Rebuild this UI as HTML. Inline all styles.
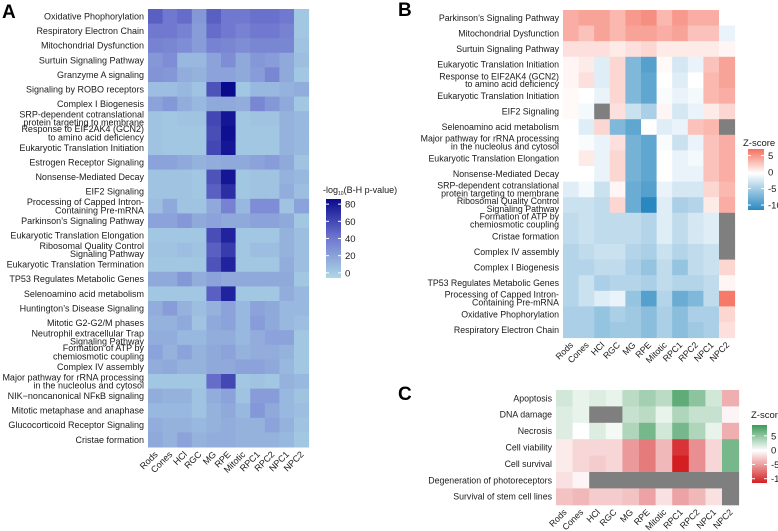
<!DOCTYPE html>
<html><head><meta charset="utf-8">
<style>
html,body{margin:0;padding:0;background:#fff;}
svg{display:block;font-family:"Liberation Sans",Arial,sans-serif;}
</style></head>
<body>
<svg id="fig" width="778" height="531" viewBox="0 0 778 531" xmlns="http://www.w3.org/2000/svg">
<defs>
<linearGradient id="gA" x1="0" y1="1" x2="0" y2="0">
<stop offset="0" stop-color="#add8e6"/><stop offset="0.5" stop-color="#7078d0"/><stop offset="1" stop-color="#0a0a8e"/>
</linearGradient>
<linearGradient id="gB" x1="0" y1="1" x2="0" y2="0">
<stop offset="0" stop-color="#2a88c0"/><stop offset="0.6" stop-color="#ffffff"/><stop offset="1" stop-color="#f4705f"/>
</linearGradient>
<linearGradient id="gC" x1="0" y1="1" x2="0" y2="0">
<stop offset="0" stop-color="#d41f22"/><stop offset="0.56" stop-color="#ffffff"/><stop offset="1" stop-color="#3d9a5b"/>
</linearGradient>
</defs>
<text x="2" y="18" font-size="19" font-weight="bold">A</text>
<text x="398" y="16" font-size="19" font-weight="bold">B</text>
<text x="398" y="400" font-size="19" font-weight="bold">C</text>
</svg>
<script>
const cols = ["Rods","Cones","HCl","RGC","MG","RPE","Mitotic","RPC1","RPC2","NPC1","NPC2"];
const rowsA = ["Oxidative Phophorylation","Respiratory Electron Chain","Mitochondrial Dysfunction","Surtuin Signaling Pathway","Granzyme A signaling","Signaling by ROBO receptors","Complex I Biogenesis","SRP-dependent cotranslational|protein targeting to membrane","Response to EIF2AK4 (GCN2)|to amino acid deficiency","Eukaryotic Translation Initiation","Estrogen Receptor Signaling","Nonsense-Mediated Decay","EIF2 Signaling","Processing of Capped Intron-|Containing Pre-mRNA","Parkinson’s Signaling Pathway","Eukaryotic Translation Elongation","Ribosomal Quality Control|Signaling Pathway","Eukaryotic Translation Termination","TP53 Regulates Metabolic Genes","Selenoamino acid metabolism","Huntington’s Disease Signaling","Mitotic G2-G2/M phases","Neutrophil extracellular Trap|Signaling Pathway","Formation of ATP by|chemiosmotic coupling","Complex IV assembly","Major pathway for rRNA processing|in the nucleolus and cytosol","NIK\u2212noncanonical NFκB signaling","Mitotic metaphase and anaphase","Glucocorticoid Receptor Signaling","Cristae formation"];
const valsA = [
[55,45,50,30,55,45,45,48,48,45,8],
[45,45,40,28,50,45,40,45,45,40,8],
[40,38,35,28,40,38,35,38,38,38,10],
[30,35,15,15,25,35,22,30,28,22,12],
[32,30,20,18,25,25,22,28,38,22,8],
[12,12,15,10,60,90,8,15,15,18,20],
[25,30,20,15,22,22,20,38,30,22,8],
[10,8,10,10,65,85,8,10,10,18,15],
[10,8,8,8,62,88,8,8,8,18,15],
[10,8,8,8,65,85,8,8,8,18,15],
[25,25,22,18,20,22,22,25,28,22,10],
[10,10,10,8,60,85,8,10,10,18,15],
[10,10,10,8,55,75,8,10,10,20,12],
[12,22,10,10,22,40,15,35,35,10,25],
[25,25,30,22,25,22,22,25,25,22,8],
[8,8,8,8,62,80,8,8,8,18,12],
[10,10,12,10,55,70,8,12,12,18,12],
[8,8,8,8,60,80,8,8,8,20,12],
[22,22,30,20,25,22,22,22,22,22,8],
[8,8,8,8,55,80,8,8,8,20,15],
[20,28,18,12,18,25,15,25,22,15,15],
[18,18,22,10,22,25,15,28,22,15,12],
[20,20,15,15,20,20,15,20,25,25,8],
[25,18,25,18,22,25,18,20,20,18,8],
[20,22,18,18,22,22,25,25,22,15,8],
[8,8,8,8,50,65,8,10,8,18,15],
[20,18,18,10,20,25,10,28,28,15,10],
[15,15,15,10,18,22,15,30,22,15,12],
[20,18,18,15,18,20,18,18,25,18,10],
[22,18,25,18,20,20,18,18,18,15,8]];
const ticksA = [0,20,40,60,80];
const rowsB = ["Parkinson’s Signaling Pathway","Mitochondrial Dysfunction","Surtuin Signaling Pathway","Eukaryotic Translation Initiation","Response to EIF2AK4 (GCN2)|to amino acid deficiency","Eukaryotic Translation Initiation","EIF2 Signaling","Selenoamino acid metabolism","Major pathway for rRNA processing|in the nucleolus and cytosol","Eukaryotic Translation Elongation","Nonsense-Mediated Decay","SRP-dependent cotranslational|protein targeting to membrane","Ribosomal Quality Control|Signaling Pathway","Formation of ATP by|chemiosmotic coupling","Cristae formation","Complex IV assembly","Complex I Biogenesis","TP53 Regulates Metabolic Genes","Processing of Capped Intron-|Containing Pre-mRNA","Oxidative Phophorylation","Respiratory Electron Chain"];
const N = null;
const valsB = [
[4,4.5,4.5,3.5,5,5.5,3.5,5,4,4,0],
[4,3,4.5,3.5,4.5,4.5,4,4.5,3,3,-1],
[1.5,1.5,1.5,1,1.5,2,1,1,1,1,0.5],
[0.5,1,-1.5,2,-6,-8,0.3,-2,-1,3,4.5],
[0.5,1.5,-1.5,2,-6,-7.5,0,-1.5,0,3.5,4.5],
[0.3,0,-1,2,-6,-7.5,-0.3,-1,-0.5,3.5,4],
[0.3,-0.5,N,1.5,-2.5,-4,0.5,-2,-1,1,2],
[0,-1.5,2,-6,-7.5,0,-1.5,-1,3,3.5,N],
[0,-0.3,-1,1.5,-6.5,-7.5,-0.3,-2.5,-1,3,4],
[0,1,-1,2,-6.5,-7.5,0,-1,-0.5,3,4],
[0,0,-1,2,-6.5,-7.5,0,-1,-1,3,4],
[-1.5,-0.5,-2.5,0.5,-7,-8,-1,-2,-2,2,3.5],
[-2.5,-2.5,-3,2,-7,-10,-1.5,-4,-3.5,1,4],
[-3,-2.5,-3,-3,-3,-3.5,-1.5,-3,-2,-1.5,N],
[-3,-2.5,-3,-3,-3,-3.5,-1.5,-3,-2,-1.5,N],
[-3.5,-3,-2.5,-2.5,-3.5,-4,-2.5,-3.5,-3,-2.5,N],
[-3.5,-3.5,-3,-3,-4,-5,-3,-5,-3,-2.5,2],
[-3.5,-2.5,-4,-3.5,-3.5,-4,-3,-3.5,-3.5,-3,0.5],
[-3.5,-2.5,-1.5,-1,-5,-8,-3.5,-7,-6,-3,6.5],
[-4,-4,-5,-4,-4.5,-5.5,-4,-5.5,-4,-4,2],
[-4,-4,-5,-4.5,-4.5,-5.5,-4,-5.5,-4.5,-4,1.5]];
const ticksB = [5,0,-5,-10];
const rowsC = ["Apoptosis","DNA damage","Necrosis","Cell viability","Cell survival","Degeneration of photoreceptors","Survival of stem cell lines"];
const valsC = [
[2,1,1.5,1,3,4,3,7,5,2,-4],
[1.5,1,N,N,2.5,3,1,3.5,2.5,2.5,-0.5],
[1.5,0,1.5,0.5,3.5,6,2,6,3.5,1,-4],
[-1,-2,-2,-2,-5,-6.5,-3.5,-10,-5.5,-2,6],
[-1,-2,-2.5,-2,-5,-6.5,-3.5,-11,-5.5,-2,6],
[-1.5,-0.5,N,N,N,N,N,N,N,N,N],
[-3,-3.5,-2.5,-2.5,-3,-4.5,-1.5,-4.5,-3.5,-1.5,N]];
const ticksC = [5,0,-5,-10];

const svg = document.getElementById('fig');
const NS = "http://www.w3.org/2000/svg";
function mk(tag, attrs, parent){const e=document.createElementNS(NS,tag);for(const k in attrs)e.setAttribute(k,attrs[k]);(parent||svg).appendChild(e);return e;}
function hex(c){return [parseInt(c.slice(1,3),16),parseInt(c.slice(3,5),16),parseInt(c.slice(5,7),16)];}
function interp(stops, v){
  if(v<=stops[0][0]) return stops[0][1];
  for(let i=1;i<stops.length;i++){ if(v<=stops[i][0]){const a=stops[i-1],b=stops[i];const t=(v-a[0])/(b[0]-a[0]);const ca=hex(a[1]),cb=hex(b[1]);return "rgb("+ca.map((x,j)=>Math.round(x+(cb[j]-x)*t)).join(",")+")";}}
  return stops[stops.length-1][1];
}
const scA = v=>interp([[0,"#add8e6"],[45,"#7078d0"],[90,"#0a0a8e"]],v);
const scB = v=>interp([[-10,"#2a88c0"],[0,"#ffffff"],[7,"#f4705f"]],v);
const scC = v=>interp([[-11,"#d41f22"],[0,"#ffffff"],[8.5,"#3d9a5b"]],v);

function heat(name, rows, vals, x0, y0, cw, rh, sc, fs, lblGap){
  const g = mk('g',{});
  
  
  vals.forEach((row,i)=>row.forEach((v,j)=>{
    const r = mk('rect',{x:(x0+j*cw).toFixed(2),y:(y0+i*rh).toFixed(2),width:(cw+0.5).toFixed(2),height:(rh+0.5).toFixed(2),fill:v===null?"#7f7f7f":sc(v)},g);
    
    
  }));
  rows.forEach((lab,i)=>{
    const cy = y0+(i+0.5)*rh;
    const parts = lab.split('|');
    const t = mk('text',{x:x0-lblGap,'text-anchor':'end','font-size':fs,fill:'#1a1a1a'},g);
    
    
    if(parts.length===1){ t.setAttribute('y',(cy+fs*0.35).toFixed(1)); t.textContent=lab; }
    else { parts.forEach((p,k)=>{const ts=mk('tspan',{x:x0-lblGap,y:(cy+fs*0.35+(k-0.5)*fs*0.9).toFixed(1)},t);ts.textContent=p;}); }
  });
  const yb = y0+rows.length*rh;
  cols.forEach((c,j)=>{
    const cx = x0+(j+0.5)*cw+3;
    const t = mk('text',{x:cx,y:yb+8,'text-anchor':'end','font-size':fs,fill:'#1a1a1a',transform:'rotate(-45 '+cx+' '+(yb+8)+')'},g);
    
    
    t.textContent = c;
  });
}
heat('heatmap-a', rowsA, valsA, 148, 9, 14.6, 14.6, scA, 9, 4);
heat('heatmap-b', rowsB, valsB, 563, 10, 15.6, 15.6, scB, 8.8, 4);
heat('heatmap-c', rowsC, valsC, 556, 390, 16.6, 16.4, scC, 8.8, 4);

function legend(name, gid, x, y, w, h, ticks, vmin, vmax, fs){
  const g = mk('g',{});
  
  
  const r = mk('rect',{x:x,y:y,width:w,height:h,fill:'url(#'+gid+')'},g);
  
  
  ticks.forEach(tv=>{
    const ty = y + h - (tv-vmin)/(vmax-vmin)*h;
    mk('line',{x1:x,x2:x+3,y1:ty,y2:ty,stroke:'#fff','stroke-width':1},g);
    mk('line',{x1:x+w-3,x2:x+w,y1:ty,y2:ty,stroke:'#fff','stroke-width':1},g);
    const t = mk('text',{x:x+w+4,y:ty+3.5,'font-size':fs,fill:'#1a1a1a'},g);
    
    
    t.textContent = tv;
  });
  return g;
}
const lgA = legend('legend-a', 'gA', 326, 199, 15, 79, ticksA, -6, 86, 9.5);
const tA = mk('text',{x:323,y:193,'font-size':9,fill:'#1a1a1a'},lgA);


tA.innerHTML = '-log<tspan font-size="5" dy="2">10</tspan><tspan dy="-2">(B-H p-value)</tspan>';
const lgB = legend('legend-b', 'gB', 748, 149, 16, 61, ticksB, -11.5, 7, 9.5);
const tB = mk('text',{x:743,y:146,'font-size':9.5,fill:'#1a1a1a'},lgB);


tB.textContent = 'Z-score';
const lgC = legend('legend-c', 'gC', 752, 425, 15, 58, ticksC, -11.5, 8.8, 9.5);
const tC = mk('text',{x:751,y:418,'font-size':9.5,fill:'#1a1a1a'},lgC);


tC.textContent = 'Z-score';
</script>
</body></html>
